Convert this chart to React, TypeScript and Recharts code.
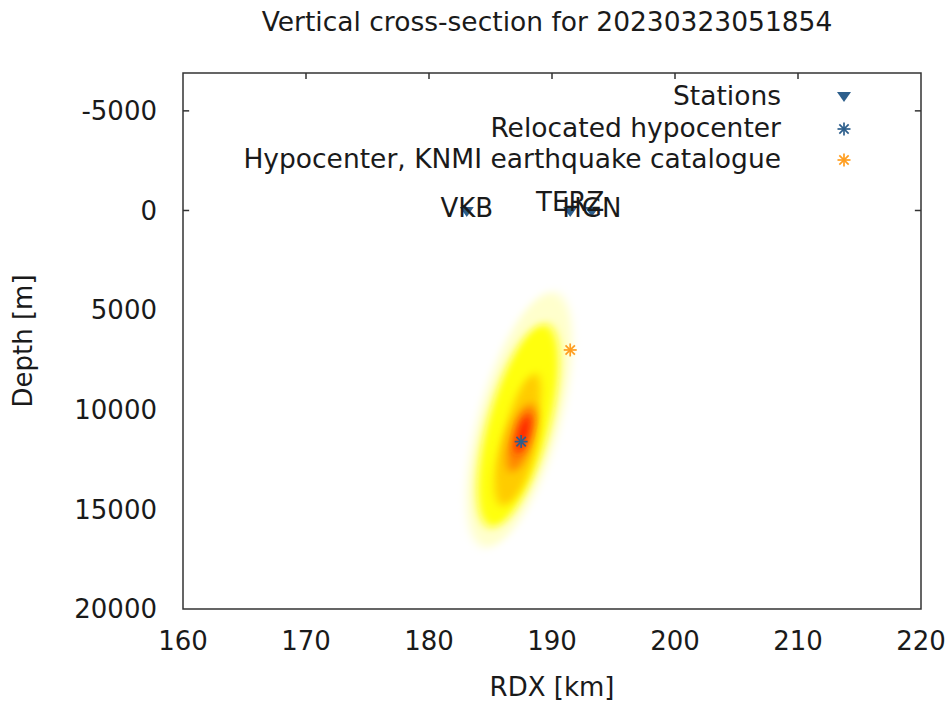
import React from 'react';
import { ScatterChart, Scatter, XAxis, YAxis, ReferenceArea, ReferenceLine } from 'recharts';

document.body.style.margin = '0';

// axes
const xTicks = [160, 170, 180, 190, 200, 210, 220];
const depthTicks = [-5000, 0, 5000, 10000, 15000, 20000];
const xDomain: [number, number] = [160, 220];
const depthDomain: [number, number] = [-6900, 20000];

// stations
const stationNames = ['VKB', 'TERZ', 'HGN'];
const stationX = [183.07, 191.48, 193.24];
const stationDepth = [0, 0, 0];
const stationLabelDepth = [-125, -440, -125];

// hypocenters
const relocatedX = [187.49];
const relocatedDepth = [11600];
const knmiX = [191.48];
const knmiDepth = [7000];

// location probability (contour levels)
const blobLevel = [0.1, 0.3, 0.5, 0.5, 0.7, 0.9];
const blobX = [187.35, 187.25, 187.1, 187.45, 187.5, 187.65];
const blobDepth = [10500, 10800, 12300, 10900, 11400, 11200];
const blobHalfWidthKm = [3.4, 2.6, 1.45, 1.2, 0.95, 0.5];
const blobHalfDepthM = [6400, 5100, 2500, 2700, 1700, 1000];
const blobTilt = -0.00041; // km of RDX per m of depth

const W = 949;
const H = 704;
const PLOT = { left: 183, top: 73, right: 921, bottom: 609 };
const PX_PER_KM = (PLOT.right - PLOT.left) / (xDomain[1] - xDomain[0]);
const PX_PER_M = (PLOT.bottom - PLOT.top) / (depthDomain[1] - depthDomain[0]);
const BLOB_SKEW = (Math.atan((blobTilt * PX_PER_KM) / PX_PER_M) * 180) / Math.PI;

const FONT = '"DejaVu Sans", sans-serif';
const FS = 26;
const TEXT = '#1a1a1a';
const BLUE = '#2d5f8c';
const ORANGE = '#ff9d1e';

const levelColor = (lv: number) =>
  lv >= 0.9 ? '#ff2200' : lv >= 0.7 ? '#ff8600' : lv >= 0.5 ? '#ffcc00' : lv >= 0.3 ? '#ffff10' : '#ffffcc';

const blobData = blobLevel.map((level, i) => ({
  x: blobX[i],
  y: blobDepth[i],
  level,
  halfWidthKm: blobHalfWidthKm[i],
  halfDepthM: blobHalfDepthM[i],
}));
const stationData = stationNames.map((name, i) => ({ x: stationX[i], y: stationDepth[i], name }));
const stationLabelData = stationNames.map((name, i) => ({ x: stationX[i], y: stationLabelDepth[i], name }));
const relocatedData = relocatedX.map((x, i) => ({ x, y: relocatedDepth[i] }));
const knmiData = knmiX.map((x, i) => ({ x, y: knmiDepth[i] }));

function BlobShape(props: any) {
  const { cx, cy, payload } = props;
  return (
    <ellipse
      cx={0}
      cy={0}
      rx={payload.halfWidthKm * PX_PER_KM}
      ry={payload.halfDepthM * PX_PER_M}
      fill={levelColor(payload.level)}
      filter="url(#blobBlur)"
      transform={`translate(${cx},${cy}) skewX(${BLOB_SKEW})`}
    />
  );
}

function Triangle({ cx, cy }: { cx: number; cy: number }) {
  return <polygon points={`${cx - 7},${cy - 4.5} ${cx + 7},${cy - 4.5} ${cx},${cy + 5.5}`} fill={BLUE} />;
}

function Star({ cx, cy, color }: { cx: number; cy: number; color: string }) {
  const r = 6.5;
  const d = r * 0.72;
  return (
    <g stroke={color} strokeWidth={1.7}>
      <line x1={cx - r} y1={cy} x2={cx + r} y2={cy} />
      <line x1={cx} y1={cy - r} x2={cx} y2={cy + r} />
      <line x1={cx - d} y1={cy - d} x2={cx + d} y2={cy + d} />
      <line x1={cx - d} y1={cy + d} x2={cx + d} y2={cy - d} />
    </g>
  );
}

const tickStyle = { fontSize: FS, fill: TEXT, fontFamily: FONT };

export default function App() {
  const legend = [
    { label: 'Stations', baseline: 105, cy: 96.5, kind: 'tri' },
    { label: 'Relocated hypocenter', baseline: 136.5, cy: 129, kind: 'blue' },
    { label: 'Hypocenter, KNMI earthquake catalogue', baseline: 168, cy: 160, kind: 'orange' },
  ];
  return (
    <div style={{ position: 'relative', width: W, height: H, background: '#fff' }}>
      <svg width={0} height={0} style={{ position: 'absolute' }}>
        <defs>
          <filter id="blobBlur" x="-50%" y="-50%" width="200%" height="200%">
            <feGaussianBlur stdDeviation={4} />
          </filter>
        </defs>
      </svg>
      <ScatterChart width={W} height={H} margin={{ top: PLOT.top, right: W - PLOT.right, bottom: 0, left: 0 }}>
        <XAxis
          type="number"
          dataKey="x"
          domain={xDomain}
          ticks={xTicks}
          interval={0}
          height={H - PLOT.bottom}
          axisLine={false}
          tickLine={false}
          tickSize={0}
          tickMargin={23}
          tick={tickStyle}
          allowDataOverflow
        />
        <YAxis
          type="number"
          dataKey="y"
          domain={depthDomain}
          ticks={depthTicks}
          interval={0}
          reversed
          width={PLOT.left}
          axisLine={false}
          tickLine={false}
          tickSize={0}
          tickMargin={26}
          tick={tickStyle}
          allowDataOverflow
        />
        <Scatter data={blobData} shape={BlobShape} isAnimationActive={false} />
        <Scatter data={stationData} shape={(p: any) => <Triangle cx={p.cx} cy={p.cy + 1} />} isAnimationActive={false} />
        <Scatter
          data={stationLabelData}
          isAnimationActive={false}
          shape={(p: any) => (
            <text x={p.cx} y={p.cy} dy="0.36em" textAnchor="middle" fontSize={FS} fontFamily={FONT} fill={TEXT}>
              {p.payload.name}
            </text>
          )}
        />
        <Scatter data={relocatedData} shape={(p: any) => <Star cx={p.cx} cy={p.cy} color={BLUE} />} isAnimationActive={false} />
        <Scatter data={knmiData} shape={(p: any) => <Star cx={p.cx} cy={p.cy} color={ORANGE} />} isAnimationActive={false} />
        {xTicks.slice(1, -1).map((t) => (
          <ReferenceLine
            key={`top-${t}`}
            segment={[{ x: t, y: depthDomain[0] }, { x: t, y: depthDomain[0] + 300 }]}
            stroke="#333"
            strokeWidth={1.5}
            ifOverflow="visible"
          />
        ))}
        {[-5000, 0].map((t) => (
          <ReferenceLine
            key={`l-${t}`}
            segment={[{ x: xDomain[0], y: t }, { x: xDomain[0] + 0.5, y: t }]}
            stroke="#333"
            strokeWidth={1.5}
            ifOverflow="visible"
          />
        ))}
        {[-5000, 0].map((t) => (
          <ReferenceLine
            key={`r-${t}`}
            segment={[{ x: xDomain[1] - 0.5, y: t }, { x: xDomain[1], y: t }]}
            stroke="#333"
            strokeWidth={1.5}
            ifOverflow="visible"
          />
        ))}
        <ReferenceArea
          x1={xDomain[0]}
          x2={xDomain[1]}
          y1={depthDomain[0]}
          y2={depthDomain[1]}
          fill="none"
          fillOpacity={0}
          stroke="#333"
          strokeWidth={1.5}
          ifOverflow="visible"
        />
      </ScatterChart>
      <svg width={W} height={H} style={{ position: 'absolute', left: 0, top: 0, pointerEvents: 'none' }}>
        <g fontFamily={FONT} fontSize={FS} fill={TEXT}>
          <text x={547} y={31} textAnchor="middle" fontSize={26.5}>
            Vertical cross-section for 20230323051854
          </text>
          <text x={(PLOT.left + PLOT.right) / 2} y={696} textAnchor="middle">
            RDX [km]
          </text>
          <text x={32} y={341} textAnchor="middle" transform="rotate(-90, 32, 341)">
            Depth [m]
          </text>
          {legend.map((l) => (
            <text key={l.label} x={781} y={l.baseline} textAnchor="end" fontSize={26.5}>
              {l.label}
            </text>
          ))}
        </g>
        {legend.map((l) =>
          l.kind === 'tri' ? (
            <Triangle key={l.kind} cx={844} cy={l.cy} />
          ) : (
            <Star key={l.kind} cx={844} cy={l.cy} color={l.kind === 'blue' ? BLUE : ORANGE} />
          )
        )}
      </svg>
    </div>
  );
}
